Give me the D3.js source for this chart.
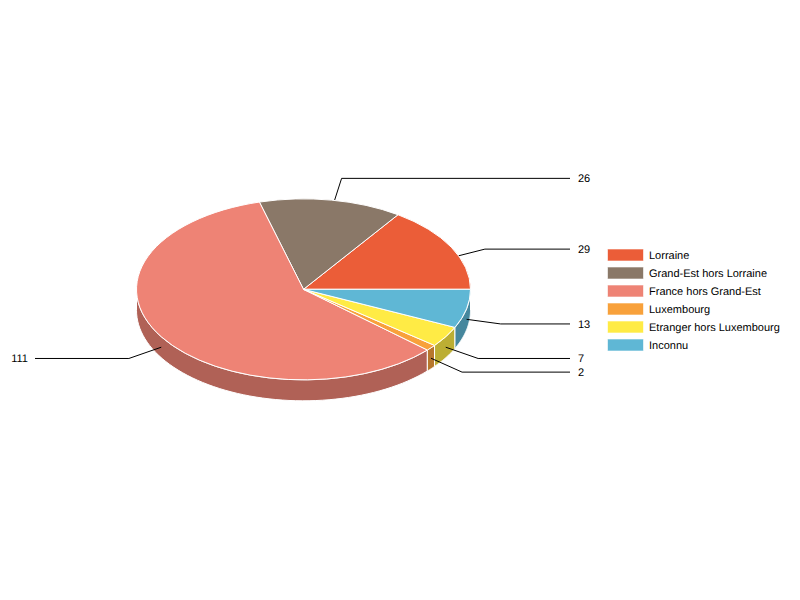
<!DOCTYPE html>
<html>
<head>
<meta charset="utf-8">
<script src="https://cdn.jsdelivr.net/npm/d3@7"></script>
<style>
  html, body { margin: 0; padding: 0; background: #fff; }
  text { font-family: "Liberation Sans", Arial, sans-serif; font-size: 11px; fill: #000; text-rendering: geometricPrecision; }
</style>
</head>
<body>
<div id="chart"></div>
<script>
// data
const categories = ["Lorraine", "Grand-Est hors Lorraine", "France hors Grand-Est", "Luxembourg", "Etranger hors Luxembourg", "Inconnu"];
const values = [29, 26, 111, 2, 7, 13];
const colors = ["#EB5D38", "#8A7868", "#EE8375", "#F8A13B", "#FFEB45", "#5FB7D5"];

// set the dimensions of the graph
const width = 800, height = 600;
const cx = 303.5, cy = 289.3, rx = 167, ry = 90.5, depth = 21;
// leader elbows sit on a larger ellipse, text column is fixed
const elbowRx = 205, elbowRy = 112;
const lineEndRight = 570, lineEndLeft = 35, labelGap = 8;
// the original chart moved some labels apart, keep those small shifts here
const elbowNudge = { 0: [0, 1.5], 1: [4, -11], 3: [2, 0], 5: [-3, 0] };

const svg = d3.select("#chart").append("svg")
  .attr("width", width)
  .attr("height", height)
  .style("display", "block");

// pie goes counter clockwise from 3 o'clock
const slices = d3.pie().sort(null)
  .startAngle(Math.PI / 2)
  .endAngle(Math.PI / 2 - 2 * Math.PI)(values);

const px = a => Math.sin(a) * rx;
const py = a => -Math.cos(a) * ry;

// side wall of a slice, only the part facing us
// front half of the ellipse is between -PI/2 and -3PI/2 in this direction
function wallPath(d) {
  const lo = Math.max(d.endAngle, -1.5 * Math.PI), hi = Math.min(d.startAngle, -0.5 * Math.PI);
  if (hi <= lo) return null;
  const n = 60;
  const pts = d3.range(n + 1).map(i => lo + (hi - lo) * i / n);
  const top = pts.map(a => [px(a), py(a)]);
  const bottom = pts.slice().reverse().map(a => [px(a), py(a) + depth]);
  return d3.line()(top.concat(bottom)) + "Z";
}

const pie = svg.append("g").attr("transform", `translate(${cx},${cy})`);

// walls
pie.selectAll(".wall")
  .data(slices)
  .join("path")
  .attr("class", "wall")
  .attr("d", wallPath)
  .attr("fill", (d, i) => d3.rgb(colors[i]).darker(0.85))
  .attr("stroke", "#fff")
  .attr("stroke-width", 1);

// leader lines, they start half way down the wall at the middle of the slice
function leader(d, i) {
  const mid = (d.startAngle + d.endAngle) / 2;
  const start = [px(mid), py(mid) + depth / 2];
  const nudge = elbowNudge[i] || [0, 0];
  const elbow = [Math.sin(mid) * elbowRx + nudge[0], -Math.cos(mid) * elbowRy + depth / 2 + nudge[1]];
  const end = [(Math.sin(mid) < 0 ? lineEndLeft : lineEndRight) - cx, elbow[1]];
  return { start, elbow, end, left: Math.sin(mid) < 0 };
}
const leaders = slices.map(leader);

pie.selectAll(".leader")
  .data(leaders)
  .join("path")
  .attr("class", "leader")
  .attr("d", d => d3.line()([d.start, d.elbow, d.end]))
  .attr("fill", "none")
  .attr("stroke", "#000")
  .attr("stroke-width", 1);

pie.selectAll(".label")
  .data(leaders)
  .join("text")
  .attr("class", "label")
  .attr("x", d => d.end[0] + (d.left ? -labelGap + 1 : labelGap))
  .attr("y", d => d.end[1])
  .attr("dy", "0.35em")
  .style("text-anchor", d => d.left ? "end" : "start")
  .text((d, i) => values[i]);

// top of the pie, drawn last so it hides the back leaders
const arc = d3.arc().innerRadius(0).outerRadius(1);
pie.append("g")
  .attr("transform", `scale(${rx},${ry})`)
  .selectAll("path")
  .data(slices)
  .join("path")
  .attr("d", arc)
  .attr("fill", (d, i) => colors[i])
  .attr("stroke", "#fff")
  .attr("stroke-width", 1)
  .attr("vector-effect", "non-scaling-stroke");

// legend
const legendY = d3.scaleBand()
  .domain(categories)
  .range([246, 354]);

const legend = svg.append("g");
legend.selectAll("rect")
  .data(categories)
  .join("rect")
  .attr("x", 608)
  .attr("y", d => legendY(d) + legendY.bandwidth() / 2 - 5.5)
  .attr("width", 35)
  .attr("height", 11)
  .attr("fill", (d, i) => colors[i])
  .attr("stroke", (d, i) => colors[i])
  .attr("stroke-opacity", 0.4);

legend.selectAll("text")
  .data(categories)
  .join("text")
  .attr("x", 649)
  .attr("y", d => legendY(d) + legendY.bandwidth() / 2)
  .attr("dy", "0.35em")
  .text(d => d);
</script>
</body>
</html>
